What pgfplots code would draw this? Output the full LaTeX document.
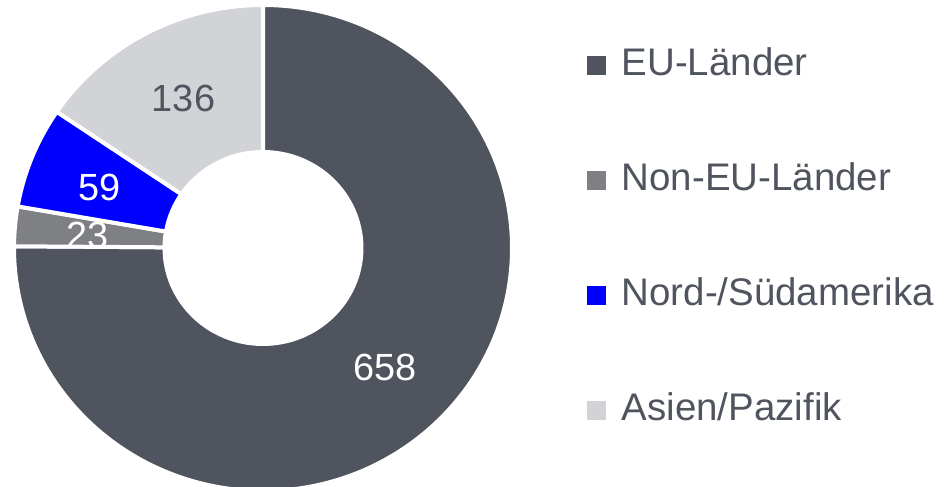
\documentclass[border=0pt]{standalone}
\usepackage{pgfplots}
\pgfplotsset{compat=1.18}
\usepackage{pgfplotstable}
\usepackage{fontspec}
\setmainfont{Liberation Sans}
\definecolor{cEU}{RGB}{80,84,95}
\definecolor{cNonEU}{RGB}{126,128,132}
\definecolor{cAm}{RGB}{0,0,255}
\definecolor{cAs}{RGB}{210,211,215}
\pgfplotstableread{
label value
EU-Länder 658
Non-EU-Länder 23
Nord-/Südamerika 59
Asien/Pazifik 136
}\donutdata
\newcommand\donutwedge[3]{%
  \filldraw[fill=#3, draw=white, line width=4bp, line join=miter]
    (axis cs:{263+249*cos(#1)},{239+243*sin(#1)})
    arc[start angle=#1, end angle=#2, x radius=249bp, y radius=243bp]
    -- (axis cs:{263+98.5*cos(#2)},{239+96*sin(#2)})
    arc[start angle=#2, end angle=#1, x radius=98.5bp, y radius=96bp]
    -- cycle;}
\newcommand\legentry[3]{% baseline (axis y), colour, text
  \fill[#2] (axis cs:587,{#1+0.5}) rectangle (axis cs:606,{#1+19.5});
  \node[anchor=base west, inner sep=0pt, text=cEU, font=\fontsize{38.6}{44}\selectfont] at (axis cs:621.5,#1) {#3};}
\begin{document}
\begin{tikzpicture}
\pgfplotstablegetelem{0}{value}\of\donutdata \let\vA\pgfplotsretval
\pgfplotstablegetelem{1}{value}\of\donutdata \let\vB\pgfplotsretval
\pgfplotstablegetelem{2}{value}\of\donutdata \let\vC\pgfplotsretval
\pgfplotstablegetelem{3}{value}\of\donutdata \let\vD\pgfplotsretval
\pgfplotstablegetelem{0}{label}\of\donutdata \let\lA\pgfplotsretval
\pgfplotstablegetelem{1}{label}\of\donutdata \let\lB\pgfplotsretval
\pgfplotstablegetelem{2}{label}\of\donutdata \let\lC\pgfplotsretval
\pgfplotstablegetelem{3}{label}\of\donutdata \let\lD\pgfplotsretval
\pgfmathsetmacro\tot{\vA+\vB+\vC+\vD}
\pgfmathsetmacro\aA{90}
\pgfmathsetmacro\aB{\aA-360*(\vA/\tot)}
\pgfmathsetmacro\aC{\aB-360*(\vB/\tot)}
\pgfmathsetmacro\aD{\aC-360*(\vC/\tot)}
\pgfmathsetmacro\aE{\aD-360*(\vD/\tot)}
\path[use as bounding box] (0,0) rectangle (952bp,487bp);
\begin{axis}[
  at={(0,0)}, anchor=south west,
  width=952bp, height=487bp, scale only axis,
  xmin=0, xmax=952, ymin=0, ymax=487,
  hide axis, clip=true]
\addplot[draw=none] coordinates {(0,0) (952,487)};
\donutwedge{\aA}{\aB}{cEU}
\donutwedge{\aB}{\aC}{cNonEU}
\donutwedge{\aC}{\aD}{cAm}
\donutwedge{\aD}{\aE}{cAs}
\node[text=white, inner sep=0pt, font=\fontsize{38}{44}\selectfont] at (axis cs:385,120) {\vA};
\node[text=white, inner sep=0pt, font=\fontsize{38}{44}\selectfont] at (axis cs:88,252) {\vB};
\node[text=white, inner sep=0pt, font=\fontsize{38}{44}\selectfont] at (axis cs:100,300) {\vC};
\node[text=cEU, inner sep=0pt, font=\fontsize{38}{44}\selectfont] at (axis cs:183.5,388.5) {\vD};
\legentry{411}{cEU}{\lA}
\legentry{296}{cNonEU}{\lB}
\legentry{181}{cAm}{\lC}
\legentry{66}{cAs}{\lD}
\end{axis}
\end{tikzpicture}
\end{document}
